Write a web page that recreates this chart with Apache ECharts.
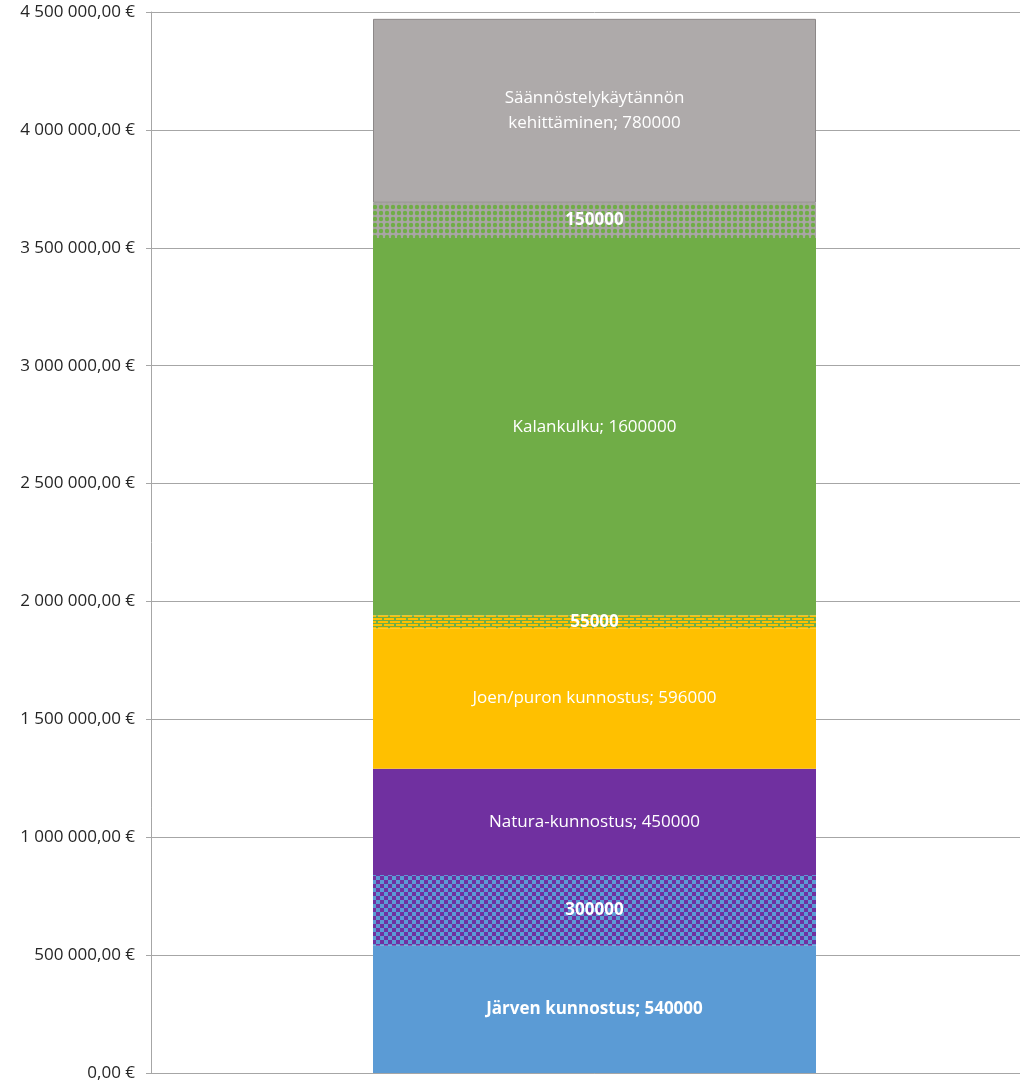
<!DOCTYPE html>
<html>
<head>
<meta charset="utf-8">
<script src="https://cdn.jsdelivr.net/npm/echarts@6/dist/echarts.min.js"></script>
<style>
html, body {margin:0; padding:0; background:#fff; overflow:hidden;}
#chart {width:1038px; height:1085px;}
</style>
</head>
<body>
<div id="chart"></div>
<script>
// data, bottom to top
var categories = ['1'];
var segNames = ['Järven kunnostus', '', 'Natura-kunnostus', 'Joen/puron kunnostus', '', 'Kalankulku', '', 'Säännöstelykäytännön\nkehittäminen'];
var segValues = [540000, 300000, 450000, 596000, 55000, 1600000, 150000, 780000];
var segBold = [true, true, false, false, true, false, true, false];
var yTicks = [0, 500000, 1000000, 1500000, 2000000, 2500000, 3000000, 3500000, 4000000, 4500000];

function tile(w, h, draw) {
	var c = document.createElement('canvas');
	c.width = w; c.height = h;
	draw(c.getContext('2d'));
	return {image: c, repeat: 'repeat'};
}

var checker = tile(8, 8, function(g){
	g.fillStyle = '#5B9BD5'; g.fillRect(0, 0, 8, 8);
	g.fillStyle = '#7030A0'; g.fillRect(0, 0, 4, 4); g.fillRect(4, 4, 4, 4);
});
var bricks = tile(12, 6, function(g){
	g.fillStyle = '#70AD47'; g.fillRect(0, 0, 12, 6);
	g.fillStyle = '#FFC000';
	g.fillRect(0, 0, 10, 2); g.fillRect(-6, 3, 10, 2); g.fillRect(6, 3, 10, 2);
});
var dots = tile(6, 6, function(g){
	g.fillStyle = '#A9A5A5'; g.fillRect(0, 0, 6, 6);
	g.fillStyle = '#70AD47';
	g.beginPath(); g.arc(3, 3, 2.2, 0, Math.PI * 2); g.fill();
});

var fills = ['#5B9BD5', checker, '#7030A0', '#FFC000', bricks, '#70AD47', dots, '#AEAAAA'];

function euro(v) {
	var s = Math.round(v).toString().replace(/\B(?=(\d{3})+(?!\d))/g, ' ');
	return s + ',00 €';
}

var series = [];
for (var i = 0; i < segValues.length; i++) {
	(function(i){
		series.push({
			type: 'bar',
			stack: 'total',
			barWidth: 443,
			data: [segValues[i]],
			itemStyle: {
				color: fills[i],
				borderColor: i == 7 ? '#8C8888' : null,
				borderWidth: i == 7 ? 1 : 0
			},
			label: {
				show: true,
				position: 'inside',
				color: '#fff',
				fontFamily: 'Open Sans',
				fontSize: 17,
				lineHeight: 25,
				fontWeight: segBold[i] ? 'bold' : 'normal',
				formatter: function(){
					return segNames[i] ? segNames[i] + '; ' + segValues[i] : '' + segValues[i];
				}
			}
		});
	})(i);
}

var myChart = echarts.init(document.getElementById('chart'));
var option = {
	animation: false,
	grid: {left: 151, right: 0, top: 12, bottom: 12},
	xAxis: {
		type: 'category',
		data: categories,
		axisLine: {lineStyle: {color: '#a6a6a6', width: 1}},
		axisTick: {show: false},
		axisLabel: {show: false}
	},
	yAxis: {
		type: 'value',
		min: yTicks[0],
		max: yTicks[yTicks.length - 1],
		interval: 500000,
		axisLine: {show: true, lineStyle: {color: '#a6a6a6'}},
		axisTick: {show: true, length: 5, lineStyle: {color: '#a6a6a6'}},
		splitLine: {lineStyle: {color: '#a6a6a6'}},
		axisLabel: {
			margin: 16,
			color: '#262626',
			fontFamily: 'Open Sans',
			fontSize: 17,
			formatter: euro
		}
	},
	series: series
};
myChart.setOption(option, true);
</script>
</body>
</html>
